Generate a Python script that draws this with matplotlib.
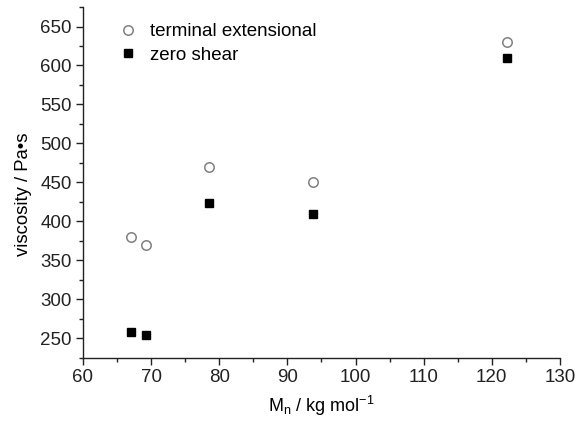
import matplotlib
matplotlib.use('Agg')
import matplotlib.pyplot as plt
from matplotlib.ticker import MultipleLocator

plt.rcParams['font.family'] = ['Liberation Sans', 'DejaVu Sans']

# molecular weight, kg/mol
mn = [67.0, 69.3, 78.5, 93.7, 122.2]
# viscosities, Pa s
eta_ext = [380, 370, 470, 450, 630]
eta_zero = [258, 254, 424, 410, 609]

fig = plt.figure(figsize=(5.82, 4.25), dpi=100)
ax = fig.add_axes([0.1426, 0.1584, 0.8194, 0.825])

ax.plot(mn, eta_ext, 'o', mfc='white', mec='#808080', mew=1.1, ms=6.8,
        label='terminal extensional')
ax.plot(mn, eta_zero, 's', color='black', ms=5.6, label='zero shear')

ax.set_xlim(60, 130)
ax.set_ylim(225, 675)
ax.xaxis.set_major_locator(MultipleLocator(10))
ax.xaxis.set_minor_locator(MultipleLocator(5))
ax.yaxis.set_minor_locator(MultipleLocator(25))
ax.set_yticks(range(250, 651, 50))

for s in ['top', 'right']:
    ax.spines[s].set_visible(False)
for s in ['left', 'bottom']:
    ax.spines[s].set_linewidth(1.0)
    ax.spines[s].set_color('#222222')

ax.tick_params(which='major', direction='out', length=5, width=1, labelsize=13.5,
               colors='#222222', pad=3)
ax.tick_params(which='minor', direction='out', length=3, width=1, colors='#222222')

ax.set_xlabel(r'M$_\mathregular{n}$ / kg mol$^\mathregular{-1}$', fontsize=13, labelpad=6)
ax.set_ylabel('viscosity / Pa•s', fontsize=13.3, labelpad=6)
# label sits a bit below the axis middle in the original
ax.yaxis.label.set_y(0.465)

ax.legend(loc='upper left', frameon=False, fontsize=13.5, handletextpad=0.4,
          handlelength=1.5, borderaxespad=0.0, bbox_to_anchor=(0.05, 0.976),
          labelspacing=0.35)

fig.savefig('out.png', dpi=100)
